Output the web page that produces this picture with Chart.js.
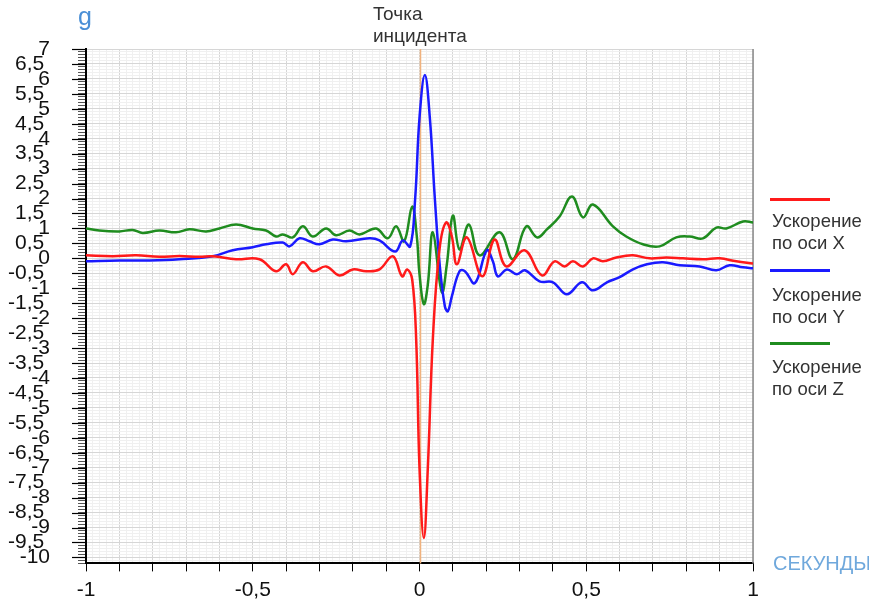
<!DOCTYPE html>
<html>
<head>
<meta charset="utf-8">
<script src="https://cdn.jsdelivr.net/npm/chart.js@4.4.1/dist/chart.umd.min.js"></script>
<style>
  body { margin: 0; background: #fff; overflow: hidden; font-family: "Liberation Sans", Arial, sans-serif; }
  #wrap { position: relative; width: 869px; height: 604px; overflow: hidden; }
  #myChart { position: absolute; left: 0; top: 0; }
  .lbl { position: absolute; white-space: nowrap; }
  .unit-g { left: 78px; top: 4px; font-size: 25px; line-height: 25px; color: #4a8fd6; }
  .incident { left: 373px; top: 3px; font-size: 19px; line-height: 22px; color: #333; }
  .seconds { left: 773px; top: 552px; font-size: 20px; line-height: 22px; color: #6fa8dc; }
  .leg-line { position: absolute; left: 770px; width: 60px; height: 3px; }
  .leg-text { left: 772px; font-size: 18.5px; line-height: 22px; color: #333; }
</style>
</head>
<body>
<div id="wrap">
  <canvas id="myChart"></canvas>
  <div class="lbl unit-g">g</div>
  <div class="lbl incident">Точка<br>инцидента</div>
  <div class="leg-line" style="top:198px; background:#ff1a1a"></div>
  <div class="lbl leg-text" style="top:210px">Ускорение<br>по оси X</div>
  <div class="leg-line" style="top:269px; background:#1a1aff"></div>
  <div class="lbl leg-text" style="top:284px">Ускорение<br>по оси Y</div>
  <div class="leg-line" style="top:342px; background:#1f8c1f"></div>
  <div class="lbl leg-text" style="top:356px">Ускорение<br>по оси Z</div>
  <div class="lbl seconds">СЕКУНДЫ</div>
</div>
<script>
// time in seconds, acceleration in g
var timeX  = [-1, -0.92, -0.85, -0.78, -0.72, -0.66, -0.62, -0.55, -0.48, -0.43, -0.40, -0.38, -0.35, -0.32, -0.28, -0.24, -0.20, -0.16, -0.12, -0.08, -0.052, -0.037, -0.022, -0.01, 0.0, 0.013, 0.025, 0.04, 0.06, 0.08, 0.097, 0.112, 0.142, 0.188, 0.225, 0.26, 0.315, 0.367, 0.405, 0.435, 0.46, 0.49, 0.52, 0.55, 0.59, 0.64, 0.69, 0.74, 0.79, 0.85, 0.9, 0.95, 1.0];
var accelX = [0.1, 0.07, 0.1, 0.05, 0.08, 0.05, 0.07, -0.03, -0.03, -0.43, -0.2, -0.53, -0.13, -0.43, -0.27, -0.57, -0.37, -0.43, -0.37, 0.07, -0.6, -0.37, -0.7, -2.7, -7.0, -9.35, -7.0, -2.7, 0.3, 1.2, 0.73, -0.2, 0.7, -0.6, 0.63, -0.27, 0.27, -0.57, -0.1, -0.27, -0.1, -0.27, 0, -0.1, 0.03, 0.1, 0, 0.03, 0, -0.03, 0, -0.1, -0.17];

var timeY  = [-1, -0.9, -0.81, -0.72, -0.62, -0.56, -0.5, -0.46, -0.41, -0.39, -0.36, -0.33, -0.3, -0.26, -0.22, -0.15, -0.12, -0.073, -0.05, -0.028, -0.013, 0.0, 0.016, 0.031, 0.046, 0.061, 0.076, 0.085, 0.097, 0.12, 0.136, 0.166, 0.202, 0.22, 0.235, 0.262, 0.292, 0.316, 0.36, 0.4, 0.442, 0.487, 0.52, 0.562, 0.6, 0.64, 0.682, 0.73, 0.78, 0.84, 0.89, 0.93, 0.97, 1.0];
var accelY = [-0.1, -0.07, -0.07, -0.03, 0.07, 0.27, 0.37, 0.47, 0.53, 0.4, 0.67, 0.57, 0.47, 0.63, 0.57, 0.67, 0.6, 0.23, 0.6, 0.4, 2.0, 4.7, 6.13, 4.7, 2.0, -0.27, -1.6, -1.77, -1.27, -0.43, -0.43, -0.83, 0.27, -0.1, -0.6, -0.37, -0.53, -0.4, -0.77, -0.8, -1.2, -0.8, -1.07, -0.8, -0.63, -0.37, -0.2, -0.13, -0.23, -0.27, -0.4, -0.23, -0.3, -0.33];

var timeZ  = [-1, -0.96, -0.9, -0.86, -0.83, -0.78, -0.73, -0.69, -0.64, -0.6, -0.55, -0.5, -0.46, -0.43, -0.41, -0.38, -0.35, -0.32, -0.28, -0.25, -0.21, -0.18, -0.13, -0.095, -0.07, -0.046, -0.022, -0.008, 0.0, 0.013, 0.025, 0.04, 0.067, 0.082, 0.1, 0.12, 0.148, 0.18, 0.24, 0.28, 0.32, 0.353, 0.382, 0.42, 0.457, 0.49, 0.52, 0.58, 0.62, 0.67, 0.72, 0.77, 0.81, 0.85, 0.89, 0.92, 0.97, 1.0];
var accelZ = [1.0, 0.93, 0.9, 0.95, 0.85, 0.93, 0.87, 0.97, 0.9, 1.0, 1.13, 1.0, 0.93, 0.73, 0.8, 0.7, 1.07, 0.73, 1.0, 0.77, 0.93, 0.8, 1.0, 0.67, 1.07, 0.57, 1.73, 0.73, -0.53, -1.53, -0.87, 0.87, -1.13, -0.2, 1.43, 0.3, 1.13, 0.1, 0.87, -0.03, 1.07, 0.7, 0.97, 1.4, 2.07, 1.37, 1.8, 1.07, 0.73, 0.47, 0.4, 0.7, 0.73, 0.67, 1.03, 1.0, 1.23, 1.2];

var incidentTime = 0;
var xTickLabels = [-1, -0.5, 0, 0.5, 1];
var yMin = -10.2, yMax = 7, yLabelStep = 0.5;

function toPoints(xs, ys) {
  return xs.map(function (x, i) { return { x: x, y: ys[i] }; });
}
function isMultiple(v, step) {
  var r = v / step;
  return Math.abs(r - Math.round(r)) < 1e-6;
}
function fmt(v) {
  return String(Math.round(v * 10) / 10).replace('.', ',');
}

const extras = {
  id: 'extras',
  beforeDatasetsDraw(chart) {
    const { ctx, chartArea, scales } = chart;
    const xs = scales.x, ys = scales.y;
    ctx.save();
    // incident marker
    const px = Math.round(xs.getPixelForValue(incidentTime)) + 0.5;
    ctx.strokeStyle = '#f0b27e';
    ctx.lineWidth = 1.5;
    ctx.beginPath(); ctx.moveTo(px, chartArea.top); ctx.lineTo(px, chartArea.bottom); ctx.stroke();
    // right frame
    ctx.strokeStyle = '#8a8a8a';
    ctx.lineWidth = 1.5;
    ctx.beginPath(); ctx.moveTo(chartArea.right, chartArea.top); ctx.lineTo(chartArea.right, chartArea.bottom); ctx.stroke();
    // long ticks on the y axis every 0.5
    ctx.strokeStyle = '#000';
    ctx.lineWidth = 1.2;
    ys.ticks.forEach(function (t) {
      if (isMultiple(t.value, yLabelStep)) {
        const py = Math.round(ys.getPixelForValue(t.value)) + 0.5;
        ctx.beginPath(); ctx.moveTo(chartArea.left - 14, py); ctx.lineTo(chartArea.left, py); ctx.stroke();
      }
    });
    ctx.restore();
  }
};

Chart.defaults.font.family = '"Liberation Sans", Arial, sans-serif';

const config = {
  type: 'line',
  data: {
    datasets: [
      { label: 'Ускорение по оси X', data: toPoints(timeX, accelX), borderColor: '#ff1a1a' },
      { label: 'Ускорение по оси Y', data: toPoints(timeY, accelY), borderColor: '#1a1aff' },
      { label: 'Ускорение по оси Z', data: toPoints(timeZ, accelZ), borderColor: '#1f8c1f' }
    ]
  },
  options: {
    responsive: false,
    animation: false,
    parsing: false,
    layout: { padding: { top: 49, right: 116, left: 0, bottom: 0 } },
    elements: {
      point: { radius: 0 },
      line: { borderWidth: 2.5, tension: 0.4, fill: false }
    },
    plugins: { legend: { display: false }, tooltip: { enabled: false } },
    scales: {
      x: {
        type: 'linear',
        min: -1, max: 1,
        afterFit: function (s) { s.height = 40; },
        border: { display: true, color: '#000', width: 2 },
        grid: {
          color: function (c) { return c.tick && isMultiple(c.tick.value, 0.1) ? '#d6d6d6' : '#f0f0f0'; },
          tickColor: function (c) { return c.tick && isMultiple(c.tick.value, 0.1) ? '#000' : 'rgba(0,0,0,0)'; },
          tickLength: 8,
          lineWidth: 1
        },
        ticks: {
          stepSize: 0.02,
          autoSkip: false,
          maxRotation: 0,
          padding: 6,
          color: '#111',
          font: { size: 21 },
          callback: function (v) {
            return xTickLabels.some(function (l) { return Math.abs(l - v) < 1e-6; }) ? fmt(v) : '';
          }
        }
      },
      y: {
        min: yMin, max: yMax,
        afterFit: function (s) { s.width = 86; },
        border: { display: true, color: '#000', width: 2 },
        grid: {
          color: function (c) { return c.tick && isMultiple(c.tick.value, yLabelStep) ? '#d6d6d6' : '#f0f0f0'; },
          tickColor: '#555',
          tickLength: 8,
          lineWidth: 1
        },
        ticks: {
          stepSize: 0.1,
          autoSkip: false,
          padding: 28,
          color: '#111',
          font: function (c) {
            var v = c.tick ? c.tick.value : 0;
            return isMultiple(v, 1) ? { size: 21, family: '"Liberation Sans Narrow", "Liberation Sans", Arial' } : { size: 21 };
          },
          callback: function (v) {
            if (!isMultiple(v, yLabelStep) || v < -10) return '';
            return isMultiple(v, 1) ? fmt(v) : fmt(v) + ' ';
          }
        }
      }
    }
  },
  plugins: [extras]
};

var ctx = document.getElementById('myChart');
ctx.width = 869;
ctx.height = 604;
var myChart = new Chart(ctx, config);
</script>
</body>
</html>
